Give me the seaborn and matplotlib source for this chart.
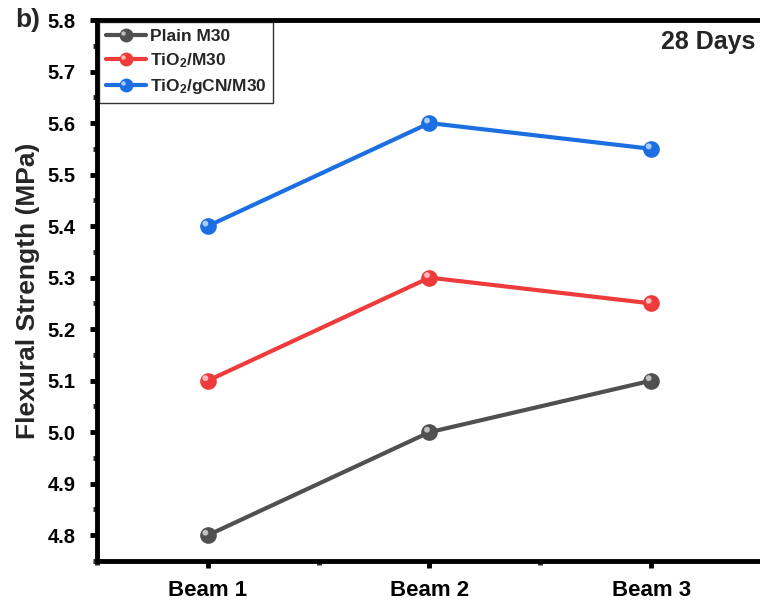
import matplotlib
matplotlib.use("Agg")
import matplotlib.pyplot as plt
import matplotlib.transforms as mtransforms
from matplotlib.lines import Line2D
from matplotlib.legend_handler import HandlerLine2D
from matplotlib.ticker import MultipleLocator
import seaborn as sns
import pandas as pd

categories = ["Beam 1", "Beam 2", "Beam 3"]
plain_m30 = [4.80, 5.00, 5.10]
tio2_m30 = [5.10, 5.30, 5.25]
tio2_gcn_m30 = [5.40, 5.60, 5.55]
series_names = ["Plain M30", "TiO$\\mathregular{_2}$/M30", "TiO$\\mathregular{_2}$/gCN/M30"]
y_ticks = [4.8, 4.9, 5.0, 5.1, 5.2, 5.3, 5.4, 5.5, 5.6, 5.7, 5.8]
y_ticklabels = ["4.8", "4.9", "5.0", "5.1", "5.2", "5.3", "5.4", "5.5", "5.6", "5.7", "5.8"]
colors = ["#505050", "#ee3b3b", "#1c6fe0"]
highlights = ["#c0c0c0", "#ffb8b8", "#a8ccff"]

sns.set_theme(style="white")
plt.rcParams["font.family"] = ["Liberation Sans", "DejaVu Sans"]
plt.rcParams["font.weight"] = "bold"
plt.rcParams["mathtext.fontset"] = "custom"
plt.rcParams["mathtext.rm"] = "Liberation Sans:bold"

rows = []
for name, vals in zip(series_names, [plain_m30, tio2_m30, tio2_gcn_m30]):
    for c, v in zip(categories, vals):
        rows.append({"Beam": c, "Strength": v, "Series": name})
df = pd.DataFrame(rows)

fig = plt.figure(figsize=(7.6, 6.0), dpi=100)
ax = fig.add_axes([97 / 760, 39 / 600, 665 / 760, 541 / 600])

sns.lineplot(data=df, x="Beam", y="Strength", hue="Series", palette=colors,
             hue_order=series_names, linewidth=3.0, marker="o", markersize=12,
             markeredgewidth=0, ax=ax, legend=False, sort=False)

# sphere-like highlights
off = mtransforms.ScaledTranslation(-2.5 / 100, 2.5 / 100, fig.dpi_scale_trans)
for name, col, hl in zip(series_names, colors, highlights):
    sub = df[df["Series"] == name]
    sns.scatterplot(data=sub, x="Beam", y="Strength", color=hl, s=18,
                    edgecolor="none", ax=ax, legend=False, zorder=5,
                    transform=ax.transData + off)

ax.set_xlim(-0.5, 2.5)
ax.set_ylim(4.75, 5.8)
ax.set_yticks(y_ticks)
ax.set_yticklabels(y_ticklabels)
ax.yaxis.set_minor_locator(MultipleLocator(0.05))
ax.xaxis.set_minor_locator(MultipleLocator(0.5))

for s in ["left", "bottom", "top"]:
    ax.spines[s].set_linewidth(3.5)
    ax.spines[s].set_color("black")
ax.spines["right"].set_visible(False)

ax.tick_params(axis="both", which="major", direction="out", length=5, width=3.5,
               colors="black", bottom=True, left=True)
ax.tick_params(axis="y", which="major", labelsize=14.5, pad=10.5)
ax.tick_params(axis="x", which="major", labelsize=16, pad=9)
ax.tick_params(axis="both", which="minor", direction="out", length=3, width=3.5,
               bottom=True, left=True)
for lab in ax.get_xticklabels() + ax.get_yticklabels():
    lab.set_fontweight("bold")

ax.set_xlabel("")
ax.set_ylabel("Flexural Strength (MPa)", fontsize=19, fontweight="bold", labelpad=5)

fig.text(755 / 760, 1 - 30 / 600, "28 Days", ha="right", va="top",
         fontsize=18, fontweight="bold")
fig.text(15 / 760, 1 - 8 / 600, "b)", ha="left", va="top", fontsize=19, fontweight="bold")


class SphereHandler(HandlerLine2D):
    def __init__(self, hl_color, **kw):
        super().__init__(**kw)
        self.hl_color = hl_color

    def create_artists(self, legend, orig_handle, xdescent, ydescent, width, height,
                       fontsize, trans):
        arts = super().create_artists(legend, orig_handle, xdescent, ydescent, width,
                                      height, fontsize, trans)
        cx = width / 2 - xdescent
        cy = height / 2 - ydescent
        hl = Line2D([cx - 1.6], [cy + 1.6], linestyle="none", marker="o",
                    markersize=3.2, color=self.hl_color, markeredgewidth=0)
        hl.set_transform(trans)
        return list(arts) + [hl]


handles = []
hmap = {}
for col, hl in zip(colors, highlights):
    h = Line2D([], [], color=col, linewidth=3.0, marker="o", markersize=10, markeredgewidth=0)
    handles.append(h)
    hmap[h] = SphereHandler(hl)
leg = ax.legend(handles, series_names, handler_map=hmap,
                loc="upper left", bbox_to_anchor=(0.0, 1.0), frameon=True, fancybox=False,
                edgecolor="black", handlelength=2.3, handletextpad=0.25, borderpad=0.38,
                labelspacing=0.42, prop={"weight": "bold", "size": 12.5}, borderaxespad=0.12)
leg.get_frame().set_linewidth(1.0)

fig.savefig("out.png", dpi=100)
